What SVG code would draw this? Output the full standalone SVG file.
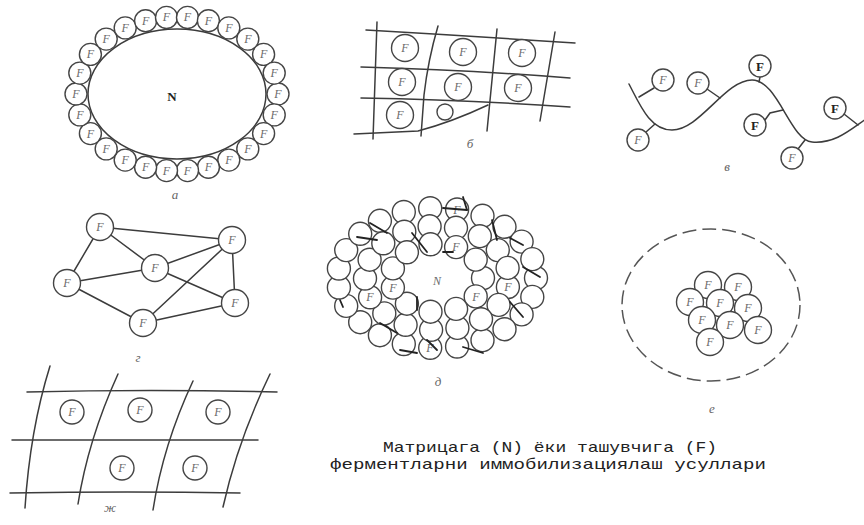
<svg xmlns="http://www.w3.org/2000/svg" xmlns:xlink="http://www.w3.org/1999/xlink" width="864" height="525" viewBox="0 0 864 525">
<style>
.ln{fill:none;stroke:#3c3c3c;stroke-width:1.5;stroke-linecap:round}
.c{fill:#fff;stroke:#454545;stroke-width:1.4}
.ft{font-family:"Liberation Serif",serif;font-style:italic;font-size:12px;fill:#6a6a6a;text-anchor:middle}
.fb{font-family:"Liberation Serif",serif;font-weight:bold;font-size:13px;fill:#222;text-anchor:middle}
.lb{font-family:"Liberation Serif",serif;font-style:italic;font-size:13px;fill:#666;text-anchor:middle}
.xl{stroke:#222;stroke-width:1.8;stroke-linecap:round}
.cap{font-family:"Liberation Mono",monospace;font-size:15px;fill:#222;text-anchor:middle}
</style>
<defs>
<g id="f11"><circle class="c" r="11"/><text class="ft" y="4">F</text></g>
<g id="f12"><circle class="c" r="12"/><text class="ft" y="4">F</text></g>
<g id="f13"><circle class="c" r="13.5"/><text class="ft" y="4">F</text></g>
<g id="fB"><circle class="c" r="11"/><text class="fb" y="4.5">F</text></g>
<circle id="d0" class="c" r="11.5"/>
</defs>
<rect width="864" height="525" fill="#fff"/>

<g id="panel-a">
<ellipse class="ln" cx="177" cy="94" rx="89" ry="65"/>
<use href="#f11" x="278" y="94"/><use href="#f11" x="274.2" y="114.9"/><use href="#f11" x="263.6" y="133.6"/><use href="#f11" x="247.8" y="148.9"/><use href="#f11" x="228.8" y="160.1"/><use href="#f11" x="208.4" y="167.2"/><use href="#f11" x="187.5" y="170.6"/><use href="#f11" x="166.5" y="170.6"/><use href="#f11" x="145.6" y="167.2"/><use href="#f11" x="125.2" y="160.1"/><use href="#f11" x="106.2" y="148.9"/><use href="#f11" x="90.4" y="133.6"/><use href="#f11" x="79.8" y="114.9"/><use href="#f11" x="76" y="94"/><use href="#f11" x="79.8" y="73.1"/><use href="#f11" x="90.4" y="54.4"/><use href="#f11" x="106.2" y="39.1"/><use href="#f11" x="125.2" y="27.9"/><use href="#f11" x="145.6" y="20.8"/><use href="#f11" x="166.5" y="17.4"/><use href="#f11" x="187.5" y="17.4"/><use href="#f11" x="208.4" y="20.8"/><use href="#f11" x="228.8" y="27.9"/><use href="#f11" x="247.8" y="39.1"/><use href="#f11" x="263.6" y="54.4"/><use href="#f11" x="274.2" y="73.1"/>
<text class="fb" x="172" y="101">N</text>
<text class="lb" x="175" y="199">а</text>
</g>

<g id="panel-b">
<path class="ln" d="M366,30 Q470,36 575,43"/>
<path class="ln" d="M361,67 Q470,70 570,78"/>
<path class="ln" d="M361,98 Q470,100 570,107"/>
<path class="ln" d="M354,134 L418,131 Q452,122 488,105"/>
<path class="ln" d="M377,22 L373,139"/>
<path class="ln" d="M438,26 Q428,60 424,95 L421,136"/>
<path class="ln" d="M497,29 L487,131"/>
<path class="ln" d="M555,32 L540,121"/>
<use href="#f13" x="405" y="48"/><use href="#f13" x="463" y="52"/><use href="#f13" x="522" y="53"/>
<use href="#f13" x="402" y="82"/><use href="#f13" x="458" y="87"/><use href="#f13" x="518" y="88"/>
<use href="#f13" x="400" y="115"/>
<circle class="c" cx="445" cy="112" r="8"/>
<text class="lb" x="470" y="148">б</text>
</g>

<g id="panel-v">
<path class="ln" d="M629,84 C640,105 650,130 672,130 C700,130 725,80 752,80 C778,80 790,140 812,142 C835,144 850,130 866,119"/>
<path class="ln" d="M639,97 L654,88"/>
<path class="ln" d="M655,124 L646,132"/>
<path class="ln" d="M720,98 L707,89"/>
<path class="ln" d="M759,82 L760,77"/>
<path class="ln" d="M783,110 L770,113 L765,120"/>
<path class="ln" d="M805,140 L798,149"/>
<path class="ln" d="M858,125 L844,114"/>
<use href="#f11" x="663" y="80"/>
<use href="#f11" x="698" y="83"/>
<use href="#fB" x="760" y="66"/>
<use href="#fB" x="755" y="125"/>
<use href="#fB" x="835" y="108"/>
<use href="#f11" x="638" y="140"/>
<use href="#f11" x="792" y="158"/>
<text class="lb" x="727" y="171">в</text>
</g>

<g id="panel-g">
<g id="g-connectors">
<path class="ln" d="M100,227 L232,240"/>
<path class="ln" d="M100,227 L155,268"/>
<path class="ln" d="M100,227 L67,283"/>
<path class="ln" d="M232,240 L155,268"/>
<path class="ln" d="M232,240 L143,323"/>
<path class="ln" d="M232,240 L235,303"/>
<path class="ln" d="M155,268 L67,283"/>
<path class="ln" d="M155,268 L235,303"/>
<path class="ln" d="M67,283 L143,323"/>
<path class="ln" d="M235,303 L143,323"/>
</g>
<g id="g-n1"><use href="#f13" x="100" y="227"/></g>
<g id="g-n2"><use href="#f13" x="232" y="240"/></g>
<g id="g-n3"><use href="#f13" x="155" y="268"/></g>
<g id="g-n4"><use href="#f13" x="67" y="283"/></g>
<g id="g-n5"><use href="#f13" x="235" y="303"/></g>
<g id="g-n6"><use href="#f13" x="143" y="323"/></g>
<text class="lb" x="138" y="362">г</text>
</g>

<g id="panel-d">
<use href="#d0" x="536" y="278"/><use href="#d0" x="532.3" y="296.9"/><use href="#d0" x="521.6" y="314.4"/><use href="#d0" x="504.5" y="329.2"/><use href="#d0" x="482.5" y="340.2"/><use href="#d0" x="457.1" y="346.5"/><use href="#d0" x="430.2" y="347.8"/><use href="#d0" x="403.8" y="344"/><use href="#d0" x="379.9" y="335.2"/><use href="#d0" x="360.2" y="322.2"/><use href="#d0" x="346.2" y="305.9"/><use href="#d0" x="338.9" y="287.5"/><use href="#d0" x="338.9" y="268.5"/><use href="#d0" x="346.2" y="250.1"/><use href="#d0" x="360.2" y="233.8"/><use href="#d0" x="379.9" y="220.8"/><use href="#d0" x="403.8" y="212"/><use href="#d0" x="430.2" y="208.2"/><use href="#d0" x="457.1" y="209.5"/><use href="#d0" x="482.5" y="215.8"/><use href="#d0" x="504.5" y="226.8"/><use href="#d0" x="521.6" y="241.6"/><use href="#d0" x="532.3" y="259.1"/>
<use href="#d0" x="507.9" y="287"/><use href="#d0" x="498.6" y="304.9"/><use href="#d0" x="481" y="319.2"/><use href="#d0" x="457.4" y="327.9"/><use href="#d0" x="431.1" y="329.8"/><use href="#d0" x="405.6" y="324.8"/><use href="#d0" x="384.3" y="313.4"/><use href="#d0" x="370.1" y="297.3"/><use href="#d0" x="365" y="278.5"/><use href="#d0" x="369.6" y="259.7"/><use href="#d0" x="383.3" y="243.3"/><use href="#d0" x="404.3" y="231.7"/><use href="#d0" x="429.6" y="226.3"/><use href="#d0" x="456" y="227.8"/><use href="#d0" x="479.8" y="236.2"/><use href="#d0" x="497.8" y="250.1"/><use href="#d0" x="507.6" y="267.9"/>
<use href="#d0" x="483" y="278"/><use href="#d0" x="475.7" y="296.4"/><use href="#d0" x="456.1" y="308.9"/><use href="#d0" x="430.5" y="311.7"/><use href="#d0" x="406.9" y="303.7"/><use href="#d0" x="392.9" y="287.6"/><use href="#d0" x="392.9" y="268.4"/><use href="#d0" x="406.9" y="252.3"/><use href="#d0" x="430.5" y="244.3"/><use href="#d0" x="456.1" y="247.1"/><use href="#d0" x="475.7" y="259.6"/>
<text class="ft" x="457" y="213.5">F</text>
<text class="ft" x="456" y="251">F</text>
<text class="ft" x="370" y="301">F</text>
<text class="ft" x="393" y="291.5">F</text>
<text class="ft" x="476" y="300.5">F</text>
<text class="ft" x="430" y="351.5">F</text>
<text class="ft" x="508" y="291">F</text>
<text class="ft" x="437" y="285">N</text>
<line class="xl" x1="443" y1="208" x2="467" y2="210"/>
<line class="xl" x1="463" y1="197" x2="467" y2="210"/>
<line class="xl" x1="492" y1="220" x2="497" y2="240"/>
<line class="xl" x1="357" y1="237" x2="377" y2="240"/>
<line class="xl" x1="370" y1="223" x2="387" y2="233"/>
<line class="xl" x1="412" y1="233" x2="427" y2="252"/>
<line class="xl" x1="443" y1="252" x2="453" y2="252"/>
<line class="xl" x1="510" y1="238" x2="523" y2="245"/>
<line class="xl" x1="523" y1="267" x2="540" y2="277"/>
<line class="xl" x1="510" y1="302" x2="523" y2="317"/>
<line class="xl" x1="340" y1="300" x2="343" y2="307"/>
<line class="xl" x1="417" y1="297" x2="417" y2="310"/>
<line class="xl" x1="380" y1="323" x2="397" y2="333"/>
<line class="xl" x1="427" y1="340" x2="437" y2="350"/>
<line class="xl" x1="463" y1="347" x2="483" y2="353"/>
<line class="xl" x1="400" y1="350" x2="417" y2="353"/>
<text class="lb" x="438" y="386">д</text>
</g>

<g id="panel-e">
<ellipse cx="711" cy="305" rx="89" ry="76" fill="none" stroke="#555" stroke-width="1.5" stroke-dasharray="14 6"/>
<use href="#f13" x="708" y="285"/><use href="#f13" x="738" y="287"/>
<use href="#f13" x="690" y="302"/><use href="#f13" x="720" y="303"/><use href="#f13" x="748" y="308"/>
<use href="#f13" x="702" y="320"/><use href="#f13" x="730" y="325"/><use href="#f13" x="758" y="330"/>
<use href="#f13" x="710" y="342"/>
<text class="lb" x="712" y="413">е</text>
</g>

<g id="panel-zh">
<path class="ln" d="M27,392 Q150,389 277,392"/>
<path class="ln" d="M12,440 L258,440"/>
<path class="ln" d="M10,493 Q130,491 240,493"/>
<path class="ln" d="M50,366 Q30,430 25,508"/>
<path class="ln" d="M118,374 Q88,440 78,504"/>
<path class="ln" d="M193,381 Q163,445 153,510"/>
<path class="ln" d="M270,374 Q238,440 223,507"/>
<use href="#f12" x="72" y="412"/><use href="#f12" x="140" y="410"/><use href="#f12" x="218" y="412"/>
<use href="#f12" x="122" y="468"/><use href="#f12" x="195" y="468"/>
<text class="lb" x="110" y="512">ж</text>
</g>

<g id="caption">
<text class="cap" x="550" y="452" textLength="334" lengthAdjust="spacingAndGlyphs">Матрицага (N) ёки ташувчига (F)</text>
<text class="cap" x="548" y="469" textLength="436" lengthAdjust="spacingAndGlyphs">ферментларни иммобилизациялаш усуллари</text>
</g>
</svg>
